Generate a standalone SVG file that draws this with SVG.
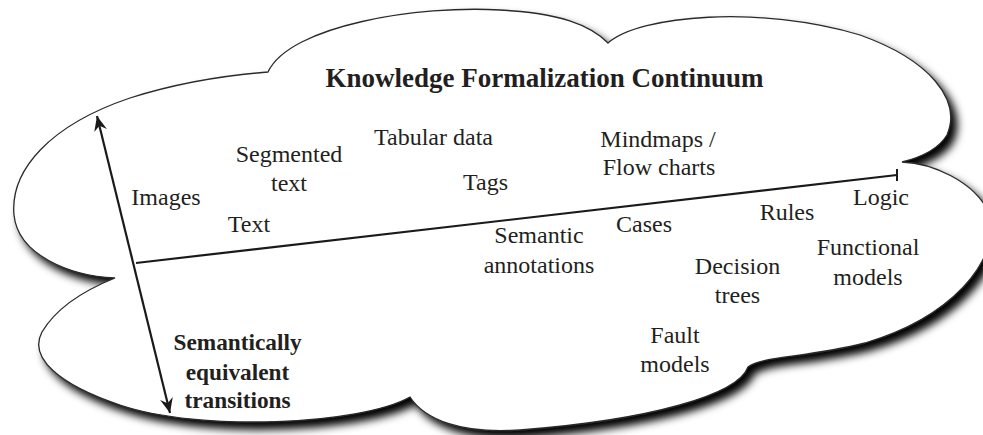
<svg xmlns="http://www.w3.org/2000/svg" width="983" height="435" viewBox="0 0 983 435">
<defs>
<filter id="shadow" x="-10%" y="-10%" width="130%" height="130%">
<feGaussianBlur in="SourceAlpha" stdDeviation="4"/>
<feOffset dx="6" dy="7" result="b"/>
<feComponentTransfer><feFuncA type="linear" slope="1"/></feComponentTransfer>
<feMerge><feMergeNode/><feMergeNode in="SourceGraphic"/></feMerge>
</filter>
<marker id="arr" viewBox="-16 -8 18 16" markerWidth="18" markerHeight="16" refX="0" refY="0" orient="auto-start-reverse" markerUnits="userSpaceOnUse">
<path d="M0,0 L-15,-6.5 L-10,0 L-15,6.5 Z" fill="#1a1a1a"/>
</marker>
<marker id="tick" viewBox="-2 -8 4 16" markerWidth="4" markerHeight="16" refX="0" refY="0" orient="0" markerUnits="userSpaceOnUse">
<line x1="0" y1="-6" x2="0" y2="6" stroke="#1a1a1a" stroke-width="2"/>
</marker>
</defs>
<style>
text{font-family:'Liberation Serif','Times New Roman',serif;font-size:24px;fill:#231f20;text-anchor:middle}
.b{font-weight:bold}
.t{font-size:27px}
.s{font-size:23.3px}
.ln{stroke:#1a1a1a;stroke-width:2.2;fill:none}
</style>
<rect width="983" height="435" fill="#ffffff"/>
<g id="cloud">
<path filter="url(#shadow)" fill="#ffffff" stroke="#2a2a2a" stroke-width="1.3" d="M268,72 C290,25 420,5 500,10 C560,13 590,25 608,43 C640,15 760,5 860,35 C930,60 962,100 947,135 C938,150 918,158 902,162 C930,163 975,180 990,215 C1000,262 950,318 865,343 C805,358 762,356 748,367 C738,395 650,420 520,430 C462,434 425,420 410,397 C360,425 200,432 120,405 C60,385 28,358 42,332 C58,305 90,288 115,278 C70,276 18,255 14,215 C10,170 50,125 130,98 C180,82 230,75 268,72 Z"/>
</g>
<g id="connectors">
<line class="ln" x1="97" y1="116" x2="170" y2="413" marker-start="url(#arr)" marker-end="url(#arr)"/>
<line class="ln" x1="136" y1="263" x2="897" y2="175" marker-end="url(#tick)"/>
</g>
<g id="title"><text class="b t" x="544.5" y="87">Knowledge Formalization Continuum</text></g>
<g id="images"><text x="166" y="205">Images</text></g>
<g id="text"><text x="249" y="232">Text</text></g>
<g id="segmented"><text x="289" y="162">Segmented</text><text x="289" y="191">text</text></g>
<g id="tabular"><text x="433.5" y="145">Tabular data</text></g>
<g id="tags"><text x="485.5" y="190">Tags</text></g>
<g id="mindmaps"><text x="658" y="147">Mindmaps /</text><text x="659" y="175">Flow charts</text></g>
<g id="semantic"><text x="539" y="243">Semantic</text><text x="539" y="273">annotations</text></g>
<g id="cases"><text x="644" y="232">Cases</text></g>
<g id="rules"><text x="787" y="220">Rules</text></g>
<g id="logic"><text x="881" y="205">Logic</text></g>
<g id="decision"><text x="737.5" y="274">Decision</text><text x="737.5" y="303">trees</text></g>
<g id="functional"><text x="868" y="255">Functional</text><text x="868" y="285">models</text></g>
<g id="fault"><text x="675" y="343">Fault</text><text x="675" y="372">models</text></g>
<g id="transitions"><text class="b s" x="237.5" y="350">Semantically</text><text class="b s" x="237.5" y="380">equivalent</text><text class="b s" x="237.5" y="408">transitions</text></g>
</svg>
